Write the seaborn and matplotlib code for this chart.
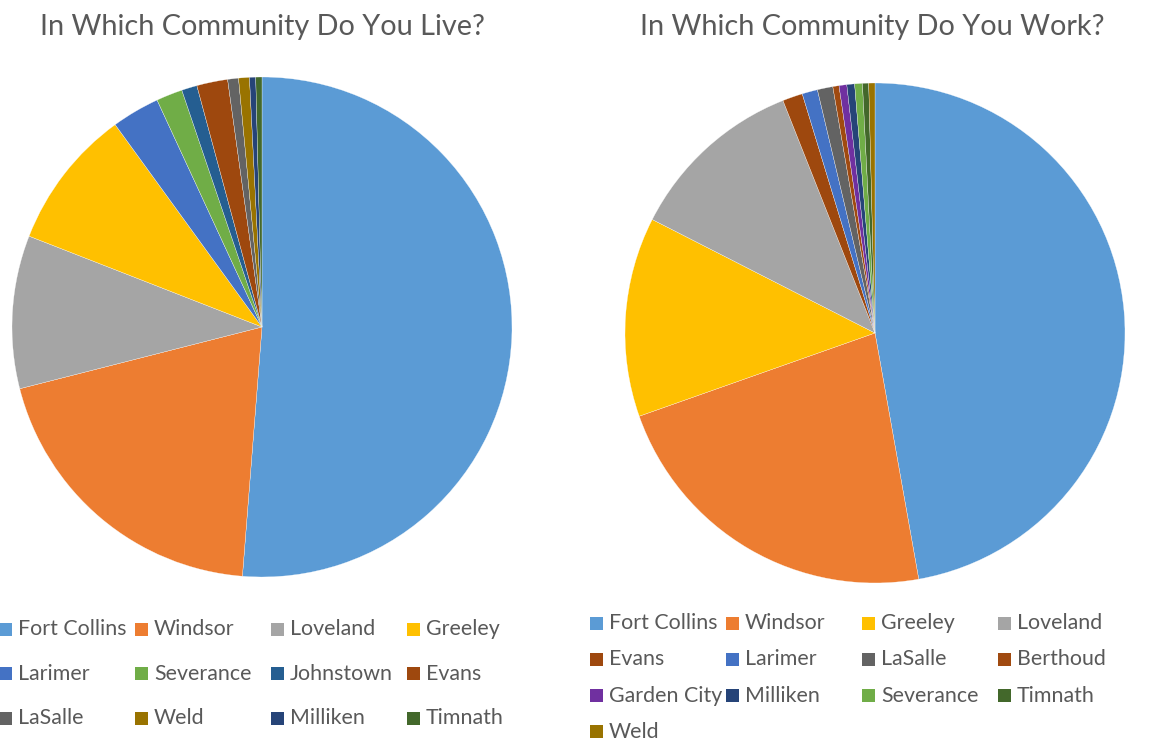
import matplotlib
matplotlib.use("Agg")
import matplotlib.pyplot as plt
import seaborn as sns
from matplotlib.patches import Rectangle

sns.set_theme(style="white")
plt.rcParams['font.family'] = ['Lato', 'DejaVu Sans']

# ---- data ----
live_labels = ["Fort Collins", "Windsor", "Loveland", "Greeley", "Larimer", "Severance",
               "Johnstown", "Evans", "LaSalle", "Weld", "Milliken", "Timnath"]
live_values = [51.3, 19.8, 9.9, 9.1, 3.1, 1.7, 1.0, 2.0, 0.7, 0.7, 0.4, 0.4]

work_labels = ["Fort Collins", "Windsor", "Greeley", "Loveland", "Evans", "Larimer", "LaSalle",
               "Berthoud", "Garden City", "Milliken", "Severance", "Timnath", "Weld"]
work_values = [47.2, 22.4, 12.9, 11.5, 1.3, 1.0, 1.0, 0.4, 0.5, 0.5, 0.5, 0.4, 0.4]

titles = ["In Which Community Do You Live?", "In Which Community Do You Work?"]

colors = {
    "Fort Collins": "#5B9BD5", "Windsor": "#ED7D31", "Loveland": "#A5A5A5",
    "Greeley": "#FFC000", "Larimer": "#4472C4", "Severance": "#70AD47",
    "Johnstown": "#255E91", "Evans": "#9E480E", "LaSalle": "#636363",
    "Weld": "#997300", "Milliken": "#264478", "Timnath": "#43682B",
    "Berthoud": "#A04A10", "Garden City": "#7030A0",
}

W, H = 1154, 741
fig = plt.figure(figsize=(W / 100, H / 100), dpi=100)
TXT = "#595959"

def px_axes(cx, cy, r):
    return fig.add_axes([(cx - r) / W, (H - cy - r) / H, 2 * r / W, 2 * r / H])

def draw_pie(cx, cy, r, labels, values, title, tx):
    ax = px_axes(cx, cy, r)
    ax.pie(values, colors=[colors[l] for l in labels], startangle=90, counterclock=False,
           radius=1, wedgeprops=dict(edgecolor="white", linewidth=0.2))
    ax.set_xlim(-1.0, 1.0)
    ax.set_ylim(-1.0, 1.0)
    ax.set_aspect("equal")
    ax.axis("off")
    fig.text(tx / W, 1 - 27 / H, title, ha="center", va="center", fontsize=20.8, color=TXT)

def draw_legend(labels, x0, colw, y0, rowh, fs):
    for i, lab in enumerate(labels):
        r, c = divmod(i, 4)
        x = x0 + c * colw
        y = y0 + r * rowh
        fig.patches.append(Rectangle(((x) / W, 1 - (y + 6.5) / H), 13 / W, 13 / H,
                                     transform=fig.transFigure, facecolor=colors[lab],
                                     edgecolor="none"))
        fig.text((x + 19) / W, 1 - y / H, lab, ha="left", va="center", fontsize=fs, color=TXT)

draw_pie(262, 327, 250, live_labels, live_values, titles[0], 262)
draw_pie(875, 333, 250, work_labels, work_values, titles[1], 872)

draw_legend(live_labels, -1, 136, 629, 44.5, 15.4)
draw_legend(work_labels, 590, 136, 623, 36.3, 15.4)

fig.savefig("out.png", dpi=100, facecolor="white")
